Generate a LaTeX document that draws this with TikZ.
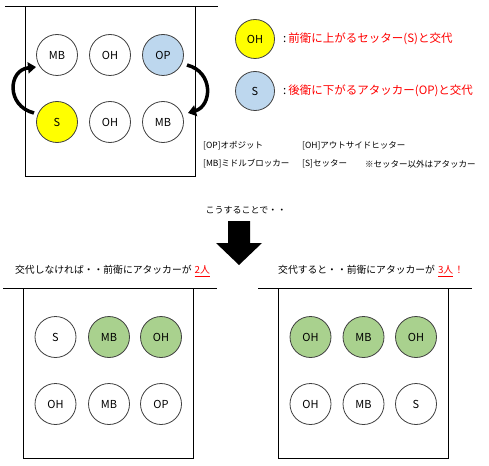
\documentclass[tikz,border=0pt]{standalone}
\usepackage{fontspec}
\setmainfont{Noto Sans CJK JP}
\usetikzlibrary{arrows.meta}
\definecolor{pyel}{HTML}{FFFF00}
\definecolor{pblue}{HTML}{BDD7EE}
\definecolor{pgreen}{HTML}{A9D18E}
\definecolor{pred}{HTML}{FF0000}
\definecolor{pborder}{HTML}{404040}
\tikzset{
  player/.style={circle,draw=pborder,line width=0.8pt,minimum size=41pt,inner sep=0pt,font=\fontsize{11}{13}\selectfont},
  legcirc/.style={circle,draw=pborder,line width=0.8pt,minimum size=39pt,inner sep=0pt,font=\fontsize{11}{13}\selectfont},
  court/.style={draw=black,line width=0.8pt},
  netline/.style={draw=black,line width=0.8pt},
  swaparrow/.style={line width=3.5pt,-{Triangle[length=8pt,width=11pt]}},
  legtext/.style={anchor=west,inner sep=0pt,font=\fontsize{8.5}{10}\selectfont},
  redtext/.style={anchor=west,inner sep=0pt,text=pred,font=\fontsize{11.5}{14}\selectfont},
  head/.style={anchor=west,inner sep=0pt,font=\fontsize{9.8}{12}\selectfont},
}
\begin{document}
\begin{tikzpicture}[x=1pt,y=-1pt]
\useasboundingbox (0,0) rectangle (489,465);
% top court
\draw[netline] (5,6) -- (218,6);
\draw[court] (25,6) rectangle (195,176);
\node[player] (t1) at (57,55) {MB};
\node[player] (t2) at (110,55) {OH};
\node[player,fill=pblue] (t3) at (163,55) {OP};
\node[player,fill=pyel] (t4) at (57,122) {S};
\node[player] (t5) at (110,122) {OH};
\node[player] (t6) at (163,122) {MB};
\coordinate (la) at (34,113);
\coordinate (lb) at (36,67);
\coordinate (ra) at (187,65);
\coordinate (rb) at (188,113);
\draw[swaparrow] (la) .. controls (6,106) and (8,70) .. (lb);
\draw[swaparrow] (ra) .. controls (214,72) and (212,106) .. (rb);
% legend
\node[legcirc,fill=pyel] (l1) at (255,39) {OH};
\node[legcirc,fill=pblue] (l2) at (255,91) {S};
\node[redtext] (r1) at (283,39) {{\color{black}:}\hspace{2pt}前衛に上がるセッター(S)と交代};
\node[redtext] (r2) at (283,91) {{\color{black}:}\hspace{2pt}後衛に下がるアタッカー(OP)と交代};
\node[legtext] (k1) at (203,146) {[OP]オポジット};
\node[legtext] (k2) at (302,146) {[OH]アウトサイドヒッター};
\node[legtext] (k3) at (203,164) {[MB]ミドルブロッカー};
\node[legtext] (k4) at (302,164) {[S]セッター};
\node[legtext] (k5) at (365,164) {※セッター以外はアタッカー};
% middle
\node[inner sep=0pt,font=\fontsize{9}{11}\selectfont] (mid) at (246,210) {こうすることで・・};
\fill[black] (228,221) -- (250,221) -- (250,243) -- (262,243) -- (239,265) -- (216,243) -- (228,243) -- cycle;
\node[head] (h1) at (15,271) {交代しなければ・・前衛にアタッカーが\hspace{3pt}{\color{pred}\underline{2人}}};
\node[head] (h2) at (278,271) {交代すると・・前衛にアタッカーが\hspace{3pt}{\color{pred}\underline{3人}\hspace{1pt}！}};
% bottom left court
\draw[netline] (3,288) -- (217,288);
\draw[court] (23,288) rectangle (193,458);
\node[player] (a1) at (55.5,337) {S};
\node[player,fill=pgreen] (a2) at (109,337) {MB};
\node[player,fill=pgreen] (a3) at (161,337) {OH};
\node[player] (a4) at (55.5,404) {OH};
\node[player] (a5) at (109,404) {MB};
\node[player] (a6) at (161,404) {OP};
% bottom right court
\draw[netline] (258,288) -- (472,288);
\draw[court] (278,288) rectangle (448,458);
\node[player,fill=pgreen] (b1) at (310.5,337) {OH};
\node[player,fill=pgreen] (b2) at (363.5,337) {MB};
\node[player,fill=pgreen] (b3) at (416,337) {OH};
\node[player] (b4) at (310.5,404) {OH};
\node[player] (b5) at (363.5,404) {MB};
\node[player] (b6) at (416,404) {S};
\end{tikzpicture}
\end{document}
